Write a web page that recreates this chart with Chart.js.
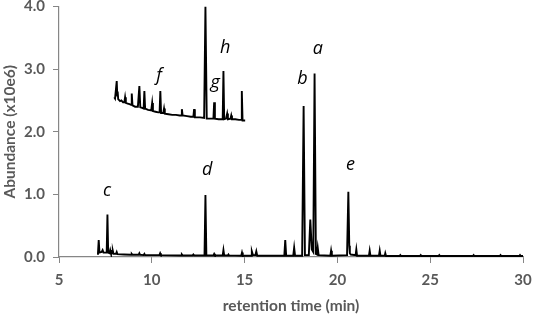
<!DOCTYPE html>
<html>
<head>
<meta charset="utf-8">
<script src="https://cdn.jsdelivr.net/npm/chart.js@4"></script>
<style>
  html, body { margin: 0; padding: 0; background: #fff; }
  #wrap { width: 533px; height: 316px; position: relative; }
</style>
</head>
<body>
<div id="wrap"><canvas id="chart01" width="533" height="316"></canvas></div>
<script>
// main chromatogram (retention time, abundance x10e6)
const mainTime = [7.05, 7.10, 7.14, 7.18, 7.30, 7.35, 7.40, 7.57, 7.61, 7.65, 7.72, 7.76, 7.80, 7.87, 7.90, 7.94,
  8.07, 8.11, 8.15, 8.50, 8.88, 8.92, 8.96, 9.29, 9.33, 9.37, 9.56, 9.60, 9.64, 10.41, 10.45, 10.49,
  11.58, 11.62, 11.66, 12.20, 12.24, 12.28, 12.84, 12.89, 12.94, 13.32, 13.36, 13.40, 13.82, 13.86, 13.90,
  14.10, 14.13, 14.16, 14.82, 14.86, 14.90, 15.35, 15.39, 15.45, 15.58, 15.63, 15.68, 16.20, 16.60,
  17.14, 17.19, 17.24, 17.62, 17.67, 17.72, 18.10, 18.18, 18.25, 18.46, 18.54, 18.62, 18.70, 18.77, 18.84,
  18.90, 18.94, 18.99, 19.62, 19.66, 19.70, 20.52, 20.59, 20.64, 20.67, 20.72, 20.98, 21.02, 21.06,
  21.70, 21.74, 21.78, 22.24, 22.28, 22.32, 22.55, 22.58, 22.62, 23.35, 23.39, 23.43, 24.45, 24.49, 24.53,
  25.45, 25.49, 25.53, 27.30, 27.34, 27.38, 28.75, 28.79, 28.83, 29.80, 29.84, 29.88, 30.0];
const mainAbund = [0.05, 0.06, 0.27, 0.07, 0.08, 0.11, 0.07, 0.07, 0.68, 0.07, 0.06, 0.11, 0.06, 0.06, 0.10, 0.05,
  0.05, 0.08, 0.045, 0.04, 0.035, 0.05, 0.035, 0.035, 0.06, 0.035, 0.03, 0.05, 0.03, 0.03, 0.06, 0.03,
  0.025, 0.04, 0.025, 0.025, 0.04, 0.025, 0.025, 0.99, 0.025, 0.025, 0.05, 0.025, 0.025, 0.11, 0.025,
  0.025, 0.04, 0.025, 0.02, 0.07, 0.02, 0.02, 0.09, 0.03, 0.03, 0.09, 0.02, 0.02, 0.02,
  0.02, 0.27, 0.02, 0.02, 0.15, 0.02, 0.02, 2.41, 0.03, 0.03, 0.60, 0.12, 0.08, 2.93, 0.05,
  0.04, 0.15, 0.03, 0.02, 0.10, 0.02, 0.03, 1.04, 0.18, 0.06, 0.04, 0.03, 0.12, 0.02,
  0.02, 0.10, 0.02, 0.02, 0.10, 0.02, 0.02, 0.06, 0.015, 0.015, 0.03, 0.015, 0.015, 0.03, 0.015,
  0.015, 0.03, 0.015, 0.015, 0.03, 0.015, 0.015, 0.03, 0.015, 0.015, 0.03, 0.015, 0.015];

// magnified inset of the 8-15 min region
const insetTime = [7.98, 8.02, 8.07, 8.11, 8.14, 8.16, 8.19, 8.29, 8.36, 8.45, 8.52, 8.56, 8.60, 8.70, 8.80, 8.88,
  8.92, 8.96, 9.10, 9.25, 9.33, 9.38, 9.48, 9.56, 9.60, 9.64, 9.80, 9.97, 10.02, 10.06, 10.20, 10.35,
  10.42, 10.46, 10.50, 10.62, 10.66, 10.70, 10.90, 11.10, 11.30, 11.50, 11.58, 11.62, 11.66, 11.90, 12.10,
  12.24, 12.28, 12.32, 12.60, 12.82, 12.89, 12.96, 13.15, 13.32, 13.36, 13.40, 13.60, 13.82, 13.86, 13.90,
  14.00, 14.06, 14.10, 14.24, 14.28, 14.32, 14.50, 14.70, 14.81, 14.85, 14.89, 15.03];
const insetAbund = [2.55, 2.53, 2.53, 2.81, 2.58, 2.64, 2.52, 2.49, 2.50, 2.47, 2.47, 2.55, 2.46, 2.45, 2.44, 2.43,
  2.61, 2.42, 2.40, 2.40, 2.73, 2.39, 2.38, 2.37, 2.65, 2.37, 2.35, 2.34, 2.46, 2.33, 2.32, 2.31,
  2.31, 2.65, 2.30, 2.30, 2.37, 2.29, 2.28, 2.27, 2.27, 2.26, 2.26, 2.36, 2.26, 2.25, 2.24,
  2.24, 2.36, 2.23, 2.23, 2.22, 4.0, 2.21, 2.21, 2.21, 2.47, 2.21, 2.20, 2.20, 2.97, 2.20,
  2.21, 2.29, 2.20, 2.21, 2.26, 2.20, 2.20, 2.19, 2.19, 2.65, 2.18, 2.18];

// peak letters
const peakLabels = ["a", "b", "c", "d", "e", "f", "g", "h"];
const peakLabelTime = [18.95, 18.12, 7.59, 12.98, 20.70, 10.39, 13.41, 13.95];
const peakLabelAbund = [3.33, 2.85, 1.05, 1.39, 1.47, 2.90, 2.78, 3.34];

const xTicks = [5, 10, 15, 20, 25, 30];
const yTicks = [0, 1, 2, 3, 4];

const axisGray = "#868686";
const textGray = "#595959";

const peakLetters = {
  id: "peakLetters",
  afterDatasetsDraw(chart) {
    const ctx = chart.ctx;
    const xs = chart.scales.x, ys = chart.scales.y;
    ctx.save();
    ctx.fillStyle = "#000";
    ctx.font = "italic 18px 'Open Sans'";
    ctx.textAlign = "center";
    ctx.textBaseline = "middle";
    peakLabels.forEach((t, i) => {
      ctx.fillText(t, xs.getPixelForValue(peakLabelTime[i]), ys.getPixelForValue(peakLabelAbund[i]));
    });
    ctx.restore();
  }
};

const ctx = document.getElementById("chart01");
new Chart(ctx, {
  type: "line",
  data: {
    datasets: [
      {
        label: "main",
        data: mainTime.map((t, i) => ({ x: t, y: mainAbund[i] })),
        borderColor: "#000",
        borderWidth: 1.9,
        pointRadius: 0,
        tension: 0
      },
      {
        label: "inset",
        data: insetTime.map((t, i) => ({ x: t, y: insetAbund[i] })),
        borderColor: "#000",
        borderWidth: 1.9,
        pointRadius: 0,
        tension: 0
      }
    ]
  },
  options: {
    responsive: false,
    animation: false,
    layout: { padding: { top: 6.5, right: 10, left: 0, bottom: 0 } },
    plugins: { legend: { display: false }, tooltip: { enabled: false } },
    scales: {
      x: {
        type: "linear",
        min: 5, max: 30,
        afterBuildTicks: s => { s.ticks = xTicks.map(v => ({ value: v })); },
        afterFit: s => { s.height = 59; s.paddingLeft = 0; s.paddingRight = 0; },
        grid: { drawOnChartArea: false, drawTicks: true, tickLength: 6, color: axisGray },
        border: { color: axisGray, width: 1.2 },
        ticks: { color: textGray, padding: 8, font: { family: "Lato", size: 15, weight: "bold" } },
        title: { display: true, text: "retention time (min)", color: textGray,
          padding: { top: 0, bottom: 1 }, font: { family: "Lato", size: 15.5, weight: "bold" } }
      },
      y: {
        min: 0, max: 4,
        afterBuildTicks: s => { s.ticks = yTicks.map(v => ({ value: v })); },
        afterFit: s => { s.width = 59; s.paddingTop = 0; s.paddingBottom = 0; },
        grid: { drawOnChartArea: false, drawTicks: true, tickLength: 6, color: axisGray },
        border: { color: axisGray, width: 1.2 },
        ticks: { color: textGray, padding: 8, font: { family: "Lato", size: 15, weight: "bold" },
          callback: v => v.toFixed(1) },
        title: { display: true, text: "Abundance (x10e6)", color: textGray,
          padding: { top: 1, bottom: 0 }, font: { family: "Lato", size: 15.5, weight: "bold" } }
      }
    }
  },
  plugins: [peakLetters]
});
</script>
</body>
</html>
